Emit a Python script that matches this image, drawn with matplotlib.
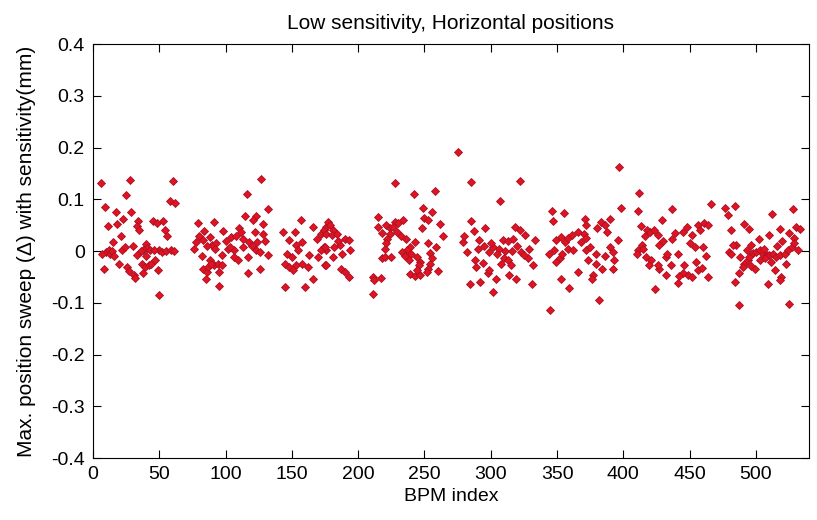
import numpy as np
import matplotlib
matplotlib.use("Agg")
import matplotlib.pyplot as plt

# BPM index / max position sweep (mm), one pair of lists per sector
s1_x = [6, 28, 60, 25, 58, 62, 9, 17, 29, 23, 11, 18, 34, 33, 35, 45, 48, 53, 54, 56, 21, 15, 30, 40, 41, 38, 43,
        10, 12, 13, 14, 16, 22, 24, 36, 50, 52, 55, 59, 61, 8, 20, 26, 27, 31, 32, 37, 39, 42, 44, 47, 38, 49, 50,
        33, 40, 46, 7]
s1_y = [0.131, 0.138, 0.136, 0.108, 0.097, 0.093, 0.085, 0.075, 0.076, 0.062, 0.048, 0.053, 0.058, 0.048, 0.040,
        0.058, 0.055, 0.059, 0.040, 0.029, 0.029, 0.017, 0.010, 0.013, 0.007, 0.002, 0.002, -0.001, 0.002, -0.005,
        0.001, -0.010, 0.002, 0.008, 0.001, 0.002, -0.001, 0.001, 0.002, 0.001, -0.035, -0.025, -0.030, -0.038,
        -0.046, -0.051, -0.025, -0.030, -0.027, -0.024, -0.017, -0.043, -0.037, -0.084, -0.008, -0.010, 0.002, -0.006]

s2_x = [127, 116, 132, 79, 91, 115, 123, 121, 128, 80, 84, 88, 83, 98, 110, 112, 122, 128, 113, 118, 124, 102, 106,
        103, 76, 82, 88, 91, 97, 113, 117, 123, 126, 132, 83, 86, 87, 89, 94, 97, 85, 95, 95, 117, 126, 106, 109,
        90, 93, 100, 78, 92, 86, 104, 108, 120, 130]
s2_y = [0.139, 0.110, 0.081, 0.055, 0.057, 0.068, 0.068, 0.060, 0.052, 0.030, 0.038, 0.028, 0.021, 0.039, 0.044,
        0.037, 0.037, 0.034, 0.023, 0.018, 0.018, 0.005, 0.002, 0.008, 0.005, -0.010, -0.017, -0.027, -0.008, 0.008,
        -0.011, 0.002, -0.001, -0.008, -0.034, -0.040, -0.030, -0.024, -0.024, -0.027, -0.053, -0.040, -0.068,
        -0.042, -0.034, -0.011, -0.017, 0.012, 0.015, 0.020, 0.018, 0.005, 0.010, 0.028, 0.030, 0.010, 0.020]

s3_x = [143, 152, 157, 166, 148, 153, 158, 146, 145, 148, 153, 158, 162, 151, 145, 160, 166, 169, 172, 176, 174,
        176, 170, 175, 177, 179, 181, 174, 176, 180, 184, 190, 193, 186, 182, 194, 172, 175, 181, 176, 187, 190,
        193, 150, 155, 163, 185, 188]
s3_y = [0.037, 0.037, 0.061, 0.046, 0.021, 0.012, 0.018, -0.005, -0.024, -0.030, -0.027, -0.024, -0.030, -0.037,
        -0.069, -0.069, -0.053, 0.024, 0.034, 0.047, 0.008, 0.002, -0.011, -0.027, 0.057, 0.050, 0.040, 0.040,
        0.034, 0.031, 0.034, 0.024, 0.021, 0.012, 0.008, 0.003, 0.002, 0.008, -0.011, -0.026, -0.034, -0.040,
        -0.050, -0.012, 0.002, -0.008, 0.020, -0.005]

s4_x = [228, 242, 258, 249, 256, 250, 253, 262, 215, 215, 221, 224, 228, 230, 234, 248, 218, 224, 229, 222, 221,
        220, 236, 243, 239, 237, 240, 233, 253, 259, 254, 218, 220, 225, 238, 235, 244, 247, 246, 256, 254, 253,
        252, 260, 239, 243, 247, 244, 211, 217, 212, 211, 226, 232, 264]
s4_y = [0.132, 0.110, 0.116, 0.084, 0.075, 0.065, 0.060, 0.052, 0.066, 0.047, 0.050, 0.044, 0.057, 0.054, 0.060,
        0.044, 0.036, 0.034, 0.037, 0.024, 0.015, 0.005, 0.023, 0.018, 0.008, 0.002, -0.005, -0.001, 0.015, 0.008,
        -0.003, -0.014, -0.012, -0.012, -0.017, -0.010, -0.011, -0.021, -0.027, -0.014, -0.024, -0.034, -0.040,
        -0.039, -0.044, -0.048, -0.046, -0.037, -0.050, -0.051, -0.056, -0.082, 0.047, 0.030, 0.030]

s5_x = [275, 285, 322, 307, 285, 287, 296, 291, 279, 282, 288, 294, 298, 299, 284, 292, 302, 304, 318, 322, 326,
        302, 306, 309, 313, 317, 299, 305, 310, 313, 308, 315, 314, 319, 323, 329, 328, 332, 331, 333, 280, 290,
        295, 300, 311, 320, 325, 316, 289]
s5_y = [0.192, 0.133, 0.136, 0.097, 0.059, 0.039, 0.044, 0.021, 0.018, -0.001, -0.017, -0.023, -0.043, -0.037,
        -0.063, -0.059, -0.079, -0.053, 0.047, 0.041, 0.031, 0.008, 0.005, 0.021, 0.020, 0.023, -0.001, -0.005,
        -0.014, -0.017, -0.024, -0.027, -0.046, -0.053, -0.001, 0.005, -0.014, -0.027, -0.063, 0.021, 0.030,
        0.005, 0.010, 0.015, 0.000, 0.010, -0.008, 0.000, -0.030]

s6_x = [346, 355, 347, 345, 344, 348, 349, 353, 356, 358, 361, 366, 370, 368, 372, 349, 352, 354, 353, 359, 366,
        372, 373, 358, 362, 397, 398, 371, 372, 380, 383, 386, 390, 388, 375, 379, 386, 390, 392, 396, 393, 392,
        379, 377, 376, 384, 382]
s6_y = [0.078, 0.074, 0.059, -0.114, -0.005, 0.002, 0.021, 0.027, 0.018, 0.025, 0.031, 0.037, 0.034, 0.018, 0.025,
        -0.021, -0.014, -0.005, -0.053, -0.072, -0.040, 0.002, -0.017, 0.005, 0.002, 0.162, 0.084, 0.063, 0.050,
        0.044, 0.057, 0.050, 0.063, 0.037, 0.008, -0.005, -0.010, 0.008, -0.001, 0.021, -0.017, -0.034, -0.024,
        -0.046, -0.053, -0.034, -0.095]

s7_x = [412, 411, 437, 413, 418, 420, 423, 426, 429, 414, 411, 415, 410, 417, 421, 419, 427, 432, 433, 437, 441,
        427, 426, 432, 436, 424, 441, 445, 448, 452, 456, 461, 464, 458, 454, 460, 446, 449, 452, 456, 459, 464,
        455, 445, 442, 466, 416, 430, 439, 450, 462]
s7_y = [0.113, 0.078, 0.081, 0.048, 0.041, 0.037, 0.041, 0.031, 0.060, 0.012, 0.002, 0.005, -0.005, -0.011, -0.017,
        -0.027, 0.012, -0.011, -0.005, 0.024, -0.005, -0.034, -0.027, -0.046, -0.027, -0.074, -0.062, 0.037, 0.047,
        0.031, 0.050, 0.054, 0.050, 0.041, 0.008, 0.008, -0.027, -0.046, -0.050, -0.037, -0.032, -0.049, -0.021,
        -0.043, -0.048, 0.091, 0.030, 0.020, 0.035, 0.015, -0.010]

s8_x = [477, 484, 479, 481, 480, 481, 485, 484, 487, 512, 528, 491, 495, 510, 518, 525, 530, 533, 529, 502, 483,
        493, 496, 488, 498, 500, 503, 505, 508, 510, 513, 515, 518, 522, 524, 527, 529, 532, 491, 494, 496, 499,
        490, 495, 503, 507, 487, 514, 519, 518, 523, 509, 525, 506, 511, 520, 516]
s8_y = [0.084, 0.087, 0.070, 0.041, -0.001, -0.005, 0.012, -0.059, -0.105, 0.072, 0.081, 0.052, 0.042, 0.032,
        0.042, 0.035, 0.046, 0.042, 0.026, 0.023, 0.012, 0.003, 0.012, -0.011, -0.003, -0.001, 0.002, -0.005,
        -0.008, -0.008, -0.005, -0.011, -0.008, -0.005, 0.003, 0.008, 0.015, 0.002, -0.024, -0.017, -0.029, -0.034,
        -0.030, -0.011, -0.017, -0.014, -0.042, -0.037, -0.050, -0.055, -0.024, -0.064, -0.103, 0.005, -0.020,
        0.020, 0.010]

xs = s1_x + s2_x + s3_x + s4_x + s5_x + s6_x + s7_x + s8_x
ys = s1_y + s2_y + s3_y + s4_y + s5_y + s6_y + s7_y + s8_y

xticks = np.arange(0, 501, 50)
yticks = [-0.4, -0.3, -0.2, -0.1, 0, 0.1, 0.2, 0.3, 0.4]
ylabels = ['-0.4', '-0.3', '-0.2', '-0.1', '0', '0.1', '0.2', '0.3', '0.4']

plt.rcParams['font.family'] = ['Liberation Sans', 'DejaVu Sans']

fig = plt.figure(figsize=(8.17, 5.20), dpi=100)
ax = fig.add_axes([0.1138, 0.119, 0.8764, 0.796])

ax.plot(xs, ys, 'D', color='#e0141e', markeredgecolor='#a8102a', markeredgewidth=0.6,
        markersize=3.7, linestyle='none')

ax.set_xlim(0, 540)
ax.set_ylim(-0.4, 0.4)
ax.set_xticks(xticks)
ax.set_yticks(yticks)
ax.set_yticklabels(ylabels)
ax.tick_params(direction='in', top=True, right=True, length=5.5, width=0.8, labelsize=14, pad=6)
for sp in ax.spines.values():
    sp.set_linewidth(0.8)

ax.set_title('Low sensitivity, Horizontal positions', fontsize=15, pad=11)
ax.set_xlabel('BPM index', fontsize=14, labelpad=3)
ax.set_ylabel('Max. position sweep (\u0394) with sensitivity(mm)', fontsize=15, labelpad=11)

fig.savefig('out.png', dpi=100)
